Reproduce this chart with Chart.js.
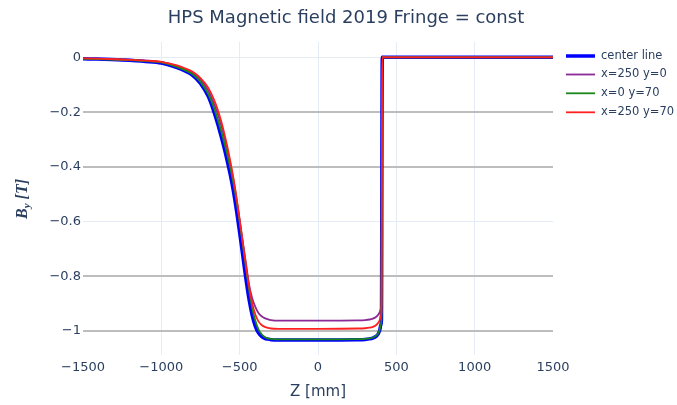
<!DOCTYPE html>
<html>
<head>
<meta charset="utf-8">
<script src="https://cdn.jsdelivr.net/npm/chart.js@4.4.1/dist/chart.umd.min.js"></script>
<style>
  html, body { margin: 0; padding: 0; background: #fff; }
  #wrap { width: 677px; height: 405px; position: relative; }
</style>
</head>
<body>
<div id="wrap"><canvas id="fieldChart"></canvas></div>
<script>
// Z positions along the beam line [mm]
const zPos = [-1500, -1250, -1100, -1000, -900, -850, -800, -750, -700, -666,
  -640, -620, -600, -580, -560, -540, -520, -500, -480, -460,
  -440, -420, -400, -380, -360, -340, -320, -300, -250, 0,
  250, 300, 330, 350, 370, 385, 395, 400, 405, 410, 1500];

// By [T] for each probe position
const centerLine = [-0.003, -0.008, -0.013, -0.019, -0.036, -0.048, -0.064, -0.094, -0.142, -0.194,
  -0.242, -0.284, -0.328, -0.376, -0.428, -0.488, -0.56, -0.64, -0.725, -0.81,
  -0.885, -0.943, -0.983, -1.007, -1.02, -1.027, -1.03, -1.032, -1.033, -1.033,
  -1.032, -1.031, -1.029, -1.026, -1.02, -1.01, -0.995, -0.98, -0.96, 0.002, 0.002];
const x250y0 = [-0.002, -0.006, -0.011, -0.016, -0.03, -0.041, -0.055, -0.08, -0.12, -0.165,
  -0.205, -0.243, -0.285, -0.333, -0.387, -0.447, -0.517, -0.594, -0.675, -0.752,
  -0.83, -0.88, -0.912, -0.934, -0.946, -0.953, -0.957, -0.96, -0.962, -0.962,
  -0.961, -0.96, -0.958, -0.955, -0.949, -0.94, -0.93, -0.92, -0.905, 0.003, 0.003];
const x0y70 = [-0.003, -0.007, -0.012, -0.017, -0.033, -0.045, -0.06, -0.088, -0.133, -0.18,
  -0.226, -0.264, -0.306, -0.352, -0.402, -0.458, -0.524, -0.6, -0.683, -0.768,
  -0.848, -0.915, -0.963, -0.994, -1.012, -1.022, -1.027, -1.029, -1.031, -1.031,
  -1.03, -1.029, -1.027, -1.024, -1.018, -1.008, -0.993, -0.978, -0.958, 0.002, 0.002];
const x250y70 = [-0.002, -0.006, -0.01, -0.015, -0.028, -0.038, -0.051, -0.074, -0.11, -0.15,
  -0.19, -0.228, -0.272, -0.322, -0.378, -0.44, -0.512, -0.592, -0.676, -0.76,
  -0.836, -0.898, -0.94, -0.965, -0.978, -0.985, -0.989, -0.991, -0.992, -0.992,
  -0.991, -0.99, -0.988, -0.985, -0.979, -0.97, -0.958, -0.945, -0.93, 0.002, 0.002];

const xTicks = [-1500, -1000, -500, 0, 500, 1000, 1500];
const yTicks = [0, -0.2, -0.4, -0.6, -0.8, -1];

const TEXT = '#2a3f5f';
const FONT = '"DejaVu Sans", Verdana, sans-serif';
const minus = v => String(v).replace('-', '\u2212');
const pts = vals => zPos.map((z, i) => ({ x: z, y: vals[i] }));

function series(label, vals, color, width, order) {
  return {
    label, data: pts(vals), borderColor: color, backgroundColor: color,
    borderWidth: width, pointRadius: 0, fill: false, order,
    cubicInterpolationMode: 'monotone'
  };
}

// titles and legend drawn by hand
const decor = {
  id: 'decor',
  afterDraw(chart) {
    const { ctx, chartArea: a } = chart;
    ctx.save();
    ctx.fillStyle = TEXT;
    ctx.textBaseline = 'middle';

    ctx.font = '18px ' + FONT;
    ctx.textAlign = 'center';
    ctx.fillText('HPS Magnetic field 2019 Fringe = const', 346, 18);

    ctx.font = '15px ' + FONT;
    ctx.fillText('Z [mm]', (a.left + a.right) / 2, 392);

    // y title: B_y [T]
    ctx.translate(23, 199);
    ctx.rotate(-Math.PI / 2);
    ctx.textAlign = 'left';
    const serif = '"Liberation Serif", "DejaVu Serif", serif';
    ctx.font = 'italic bold 16px ' + serif;
    const wB = ctx.measureText('B').width;
    ctx.font = 'italic bold 11px ' + serif;
    const wy = ctx.measureText('y').width;
    ctx.font = 'italic bold 16px ' + serif;
    const wT = ctx.measureText(' [T]').width;
    let x0 = -(wB + wy + wT) / 2;
    ctx.fillText('B', x0, 0);
    ctx.font = 'italic bold 11px ' + serif;
    ctx.fillText('y', x0 + wB, 4);
    ctx.font = 'italic bold 16px ' + serif;
    ctx.fillText(' [T]', x0 + wB + wy, 0);
    ctx.restore();

    ctx.save();
    ctx.font = '11.5px ' + FONT;
    ctx.textBaseline = 'middle';
    const rowY = [56, 74.5, 93.3, 112.3];
    chart.data.datasets.forEach((ds, i) => {
      const y = rowY[i];
      ctx.strokeStyle = ds.borderColor;
      ctx.lineWidth = ds.borderWidth;
      ctx.beginPath();
      ctx.moveTo(566, y);
      ctx.lineTo(595, y);
      ctx.stroke();
      ctx.fillStyle = TEXT;
      ctx.fillText(ds.label, 601, y);
    });
    ctx.restore();
  }
};

new Chart(document.getElementById('fieldChart'), {
  type: 'line',
  data: {
    datasets: [
      series('center line', centerLine, '#0000ff', 3.5, 4),
      series('x=250 y=0', x250y0, '#8b2a96', 1.8, 3),
      series('x=0 y=70', x0y70, '#1a861a', 1.8, 2),
      series('x=250 y=70', x250y70, '#ff2020', 1.8, 1)
    ]
  },
  options: {
    responsive: true,
    maintainAspectRatio: false,
    animation: false,
    layout: { padding: { left: 0, right: 124, top: 42, bottom: 0 } },
    plugins: { legend: { display: false }, tooltip: { enabled: false } },
    scales: {
      x: {
        type: 'linear', min: -1500, max: 1500,
        afterFit(s) { s.height = 50; },
        afterBuildTicks(s) { s.ticks = xTicks.map(v => ({ value: v })); },
        border: { display: false },
        grid: {
          drawTicks: false,
          color: c => (Math.abs(c.tick.value) === 1500 ? 'rgba(0,0,0,0)' : '#e6ecf5'),
          lineWidth: 1
        },
        ticks: { padding: 5, color: TEXT, font: { family: FONT, size: 13 }, callback: v => minus(v), maxRotation: 0 }
      },
      y: {
        type: 'linear', min: -1.088, max: 0.058,
        afterFit(s) { s.width = 83; },
        afterBuildTicks(s) { s.ticks = yTicks.map(v => ({ value: v })); },
        border: { display: false },
        grid: {
          drawTicks: false,
          color: c => (c.tick.value === 0 || c.tick.value === -0.6 ? '#e6ecf5' : '#bdbdbd'),
          lineWidth: c => (c.tick.value === 0 || c.tick.value === -0.6 ? 1 : 2)
        },
        ticks: { padding: 2, color: TEXT, font: { family: FONT, size: 13 }, callback: v => minus(v) }
      }
    }
  },
  plugins: [decor]
});
</script>
</body>
</html>
